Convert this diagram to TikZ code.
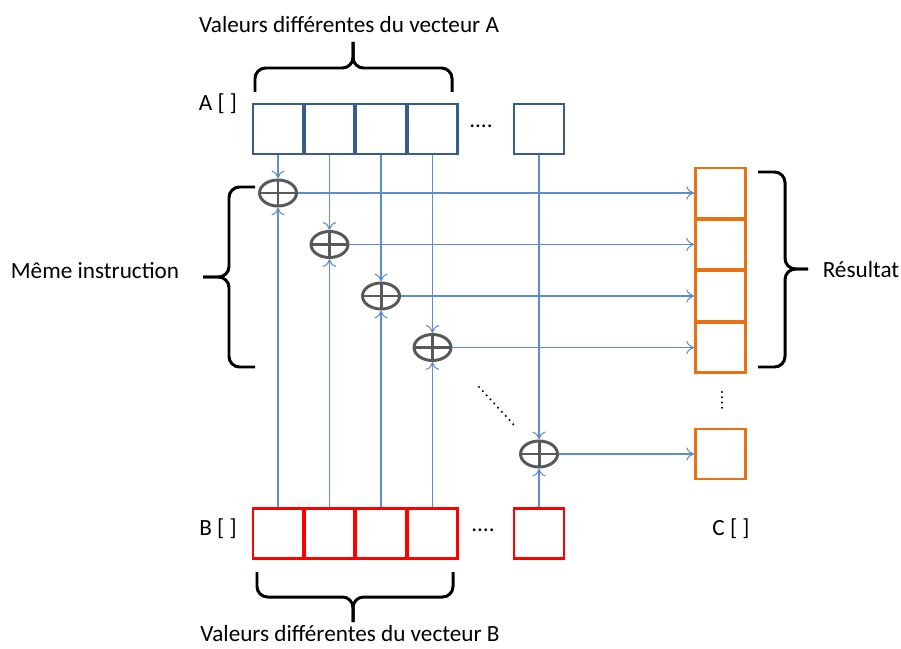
\documentclass[tikz,border=0pt]{standalone}
\usepackage{fontspec}
\setmainfont{Carlito}
\usetikzlibrary{shapes.geometric,arrows.meta}
\definecolor{vecblue}{RGB}{56,93,138}
\definecolor{vecred}{RGB}{255,0,0}
\definecolor{vecorange}{RGB}{232,113,20}
\definecolor{linkblue}{RGB}{95,140,205}
\definecolor{opgray}{RGB}{89,89,89}

\begin{document}
\begin{tikzpicture}[x=0.02cm,y=-0.02cm,
	cell/.style={draw,line width=1.5pt,minimum size=1.0cm,inner sep=0pt},
	cellA/.style={cell,draw=vecblue},
	cellB/.style={cell,draw=vecred},
	cellC/.style={cell,draw=vecorange},
	plus/.style={ellipse,draw=opgray,line width=1.7pt,minimum width=0.74cm,minimum height=0.52cm,inner sep=0pt,
		path picture={\draw[opgray,line width=1.7pt] (path picture bounding box.north) -- (path picture bounding box.south)
			(path picture bounding box.west) -- (path picture bounding box.east);}},
	link/.style={linkblue,line width=0.6pt,-{To[length=4.5pt,width=7.5pt]}},
	curly/.style={line width=1.7pt,rounded corners=6pt},
	lbl/.style={font=\fontsize{13.2}{15}\selectfont,inner sep=1pt}]
\useasboundingbox (0,0) rectangle (901,648);
%================================================================
%	Vector A
\node[cellA] (a1) at (278,129) {};
\node[cellA] (a2) at (329.5,129) {};
\node[cellA] (a3) at (381,129) {};
\node[cellA] (a4) at (432.5,129) {};
\node[cellA] (a5) at (539,129) {};
\node[lbl] (adots) at (481,126) {....};
\node[lbl] (alabel) at (218,104) {A [ ]};
%----------------------------------------------------------------
%	Vector B
\node[cellB] (b1) at (278,533.5) {};
\node[cellB] (b2) at (329.5,533.5) {};
\node[cellB] (b3) at (381,533.5) {};
\node[cellB] (b4) at (432.5,533.5) {};
\node[cellB] (b5) at (539,533.5) {};
\node[lbl] (bdots) at (483,530) {....};
\node[lbl] (blabel) at (218,529) {B [ ]};
%----------------------------------------------------------------
%	Vector C
\node[cellC] (c1) at (720.5,193) {};
\node[cellC] (c2) at (720.5,244.5) {};
\node[cellC] (c3) at (720.5,296) {};
\node[cellC] (c4) at (720.5,347.5) {};
\node[cellC] (c5) at (720.5,454) {};
\node[lbl] (clabel) at (731,529) {C [ ]};
%================================================================
%	Operators
\node[plus] (o1) at (278,193) {};
\node[plus] (o2) at (329.5,244.5) {};
\node[plus] (o3) at (381,296) {};
\node[plus] (o4) at (432.5,347.5) {};
\node[plus] (o5) at (539,454) {};
%----------------------------------------------------------------
\draw[link] (a1.south) -- (o1.north);
\draw[link] (a2.south) -- (o2.north);
\draw[link] (a3.south) -- (o3.north);
\draw[link] (a4.south) -- (o4.north);
\draw[link] (a5.south) -- (o5.north);
\draw[link] (b1.north) -- (o1.south);
\draw[link] (b2.north) -- (o2.south);
\draw[link] (b3.north) -- (o3.south);
\draw[link] (b4.north) -- (o4.south);
\draw[link] (b5.north) -- (o5.south);
\draw[link] (o1.east) -- (c1.west);
\draw[link] (o2.east) -- (c2.west);
\draw[link] (o3.east) -- (c3.west);
\draw[link] (o4.east) -- (c4.west);
\draw[link] (o5.east) -- (c5.west);
%----------------------------------------------------------------
\draw[line width=1.3pt, line cap=round, dash pattern=on 0pt off 3.2pt] (479,387) -- (514,425);
\draw[line width=1.3pt, line cap=round, dash pattern=on 0pt off 3pt] (722,392) -- (722,409);
%================================================================
%	Braces
\draw[curly] (255,92) |- (353,68) -- (353,42);
\draw[curly] (452,92) |- (353,68) -- (353,42);
\draw[curly] (257,572) |- (353,597) -- (353,622);
\draw[curly] (453,572) |- (353,597) -- (353,622);
\draw[curly] (255,187) -| (229,277) -- (203,277);
\draw[curly] (255,367) -| (229,277) -- (203,277);
\draw[curly] (758,172) -| (785,269) -- (808,269);
\draw[curly] (758,367) -| (785,269) -- (808,269);
%----------------------------------------------------------------
\node[lbl] (titleA) at (349,25) {Valeurs différentes du vecteur A};
\node[lbl] (titleB) at (350,634) {Valeurs différentes du vecteur B};
\node[lbl] (same) at (95,271) {Même instruction};
\node[lbl] (result) at (861,270) {Résultat};
%================================================================
\end{tikzpicture}
\end{document}
